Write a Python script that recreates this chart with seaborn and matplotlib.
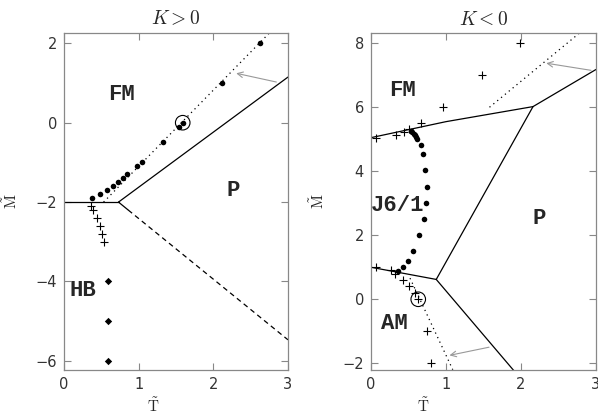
import numpy as np
import pandas as pd
import seaborn as sns
import matplotlib.pyplot as plt

# ---- K > 0 (left panel) ----
left_hb_T = [0.0, 0.73]
left_hb_M = [-2.0, -2.0]
left_fmp_T = [0.73, 3.0]
left_fmp_M = [-2.0, 1.15]
left_short_T = [0.73, 0.86]
left_short_M = [-2.0, -2.2]
left_dash_T = [0.86, 3.0]
left_dash_M = [-2.2, -5.47]
left_dot_T = [0.53, 2.75]
left_dot_M = [-2.0, 2.26]

left_dots_T = [0.38, 0.48, 0.57, 0.65, 0.72, 0.79, 0.85, 0.98, 1.04, 1.33, 1.54, 1.59, 2.12, 2.62]
left_dots_M = [-1.89, -1.80, -1.70, -1.59, -1.49, -1.39, -1.28, -1.09, -1.0, -0.49, -0.1, 0.0, 1.0, 2.0]
left_plus_T = [0.36, 0.39, 0.44, 0.48, 0.51, 0.54]
left_plus_M = [-2.1, -2.2, -2.4, -2.6, -2.8, -3.0]
left_diam_T = [0.59, 0.59, 0.59]
left_diam_M = [-4.0, -5.0, -6.0]
left_circle = (1.59, 0.0)
left_arrow = ((2.88, 1.01), (2.27, 1.26))
left_labels = [("FM", 0.77, 0.72), ("P", 2.27, -1.72), ("HB", 0.25, -4.23)]

# ---- K < 0 (right panel) ----
right_fm_T = [0.0, 1.0, 2.16]
right_fm_M = [5.05, 5.55, 6.02]
right_top_T = [2.16, 3.0]
right_top_M = [6.02, 7.18]
right_mid_T = [2.16, 0.87]
right_mid_M = [6.02, 0.62]
right_am_T = [0.0, 0.87]
right_am_M = [1.0, 0.62]
right_bot_T = [0.87, 1.93]
right_bot_M = [0.62, -2.3]
right_dot1_T = [1.58, 2.77]
right_dot1_M = [6.0, 8.3]
right_dot2_T = [0.52, 1.09]
right_dot2_M = [0.66, -2.2]

right_dots_T = [0.53, 0.55, 0.57, 0.58, 0.60, 0.61, 0.66, 0.69, 0.72, 0.74, 0.73, 0.70, 0.64, 0.56, 0.49, 0.42, 0.36]
right_dots_M = [5.27, 5.22, 5.17, 5.12, 5.06, 5.0, 4.82, 4.53, 4.04, 3.52, 3.02, 2.51, 2.02, 1.51, 1.21, 1.02, 0.89]
right_plus_T = [0.06, 0.33, 0.44, 0.51, 0.66, 0.96, 1.48, 1.98,
                0.06, 0.27, 0.32, 0.43, 0.50, 0.58, 0.63, 0.75, 0.80]
right_plus_M = [5.04, 5.12, 5.22, 5.32, 5.52, 6.0, 7.0, 8.0,
                1.0, 0.9, 0.8, 0.6, 0.4, 0.2, 0.0, -1.0, -2.0]
right_circle = (0.63, 0.0)
right_arrows = [((2.97, 7.14), (2.30, 7.39)), ((1.61, -1.48), (1.01, -1.77))]
right_labels = [("FM", 0.42, 6.52), ("J6/1", 0.35, 2.93), ("P", 2.24, 2.53), ("AM", 0.31, -0.75)]

sns.set_style("ticks")
plt.rcParams['mathtext.fontset'] = 'cm'
plt.rcParams['font.family'] = ['DejaVu Sans']

fig = plt.figure(figsize=(5.98, 4.15), dpi=100)
ax1 = fig.add_axes([64 / 598, 45 / 415, 224 / 598, 337 / 415])
ax2 = fig.add_axes([371 / 598, 45 / 415, 225 / 598, 337 / 415])

lw = 0.9


def line(ax, T, M, **kw):
    sns.lineplot(x=T, y=M, ax=ax, sort=False, estimator=None, color='black', lw=lw, **kw)


# left panel
line(ax1, left_hb_T, left_hb_M)
line(ax1, left_fmp_T, left_fmp_M)
line(ax1, left_short_T, left_short_M)
line(ax1, left_dash_T, left_dash_M, linestyle=(0, (4, 3)))
line(ax1, left_dot_T, left_dot_M, linestyle=(0, (1, 3)))
sns.scatterplot(x=left_dots_T, y=left_dots_M, ax=ax1, color='black', s=16, linewidth=0, zorder=3)
sns.scatterplot(x=left_plus_T, y=left_plus_M, ax=ax1, color='black', marker='+', s=40, linewidth=0.8, zorder=3)
sns.scatterplot(x=left_diam_T, y=left_diam_M, ax=ax1, color='black', marker='D', s=14, linewidth=0, zorder=3)
ax1.scatter(*left_circle, s=110, facecolors='none', edgecolors='black', linewidths=0.8, zorder=3)
ax1.annotate('', xy=left_arrow[1], xytext=left_arrow[0],
             arrowprops=dict(arrowstyle='->', color='#999999', lw=0.8))
for txt, t, m in left_labels:
    ax1.text(t, m, txt, ha='center', va='center', fontsize=16,
             fontweight='bold', family='Liberation Mono')

# right panel
line(ax2, right_fm_T, right_fm_M)
line(ax2, right_top_T, right_top_M)
line(ax2, right_mid_T, right_mid_M)
line(ax2, right_am_T, right_am_M)
line(ax2, right_bot_T, right_bot_M)
line(ax2, right_dot1_T, right_dot1_M, linestyle=(0, (1, 3)))
line(ax2, right_dot2_T, right_dot2_M, linestyle=(0, (1, 3)))
sns.scatterplot(x=right_dots_T, y=right_dots_M, ax=ax2, color='black', s=16, linewidth=0, zorder=3)
sns.scatterplot(x=right_plus_T, y=right_plus_M, ax=ax2, color='black', marker='+', s=40, linewidth=0.8, zorder=3)
ax2.scatter(*right_circle, s=110, facecolors='none', edgecolors='black', linewidths=0.8, zorder=3)
for start, end in right_arrows:
    ax2.annotate('', xy=end, xytext=start,
                 arrowprops=dict(arrowstyle='->', color='#999999', lw=0.8))
for txt, t, m in right_labels:
    ax2.text(t, m, txt, ha='center', va='center', fontsize=16,
             fontweight='bold', family='Liberation Mono')

ax1.set_xlim(0, 3)
ax1.set_ylim(-6.23, 2.26)
ax1.set_yticks([-6, -4, -2, 0, 2])
ax2.set_xlim(0, 3)
ax2.set_ylim(-2.21, 8.32)
ax2.set_yticks([-2, 0, 2, 4, 6, 8])

for ax, title, xl in [(ax1, r'$K > 0$', 0.40), (ax2, r'$K < 0$', 0.23)]:
    ax.set_xticks([0, 1, 2, 3])
    ax.tick_params(direction='in', top=True, right=True, length=5, width=0.8,
                   color='#888888', labelsize=10.5, labelcolor='#333333', pad=5)
    for sp in ax.spines.values():
        sp.set_color('#888888')
        sp.set_linewidth(0.9)
    ax.set_title(title, fontsize=14, pad=6)
    ax.set_xlabel(r'$\tilde{\mathrm{T}}$', fontsize=11)
    ax.set_ylabel(r'$\tilde{\mathrm{M}}$', fontsize=11)
    ax.xaxis.set_label_coords(xl, -0.078)
    ax.yaxis.set_label_coords(-0.195, 0.5)

fig.savefig('out.png', dpi=100)
